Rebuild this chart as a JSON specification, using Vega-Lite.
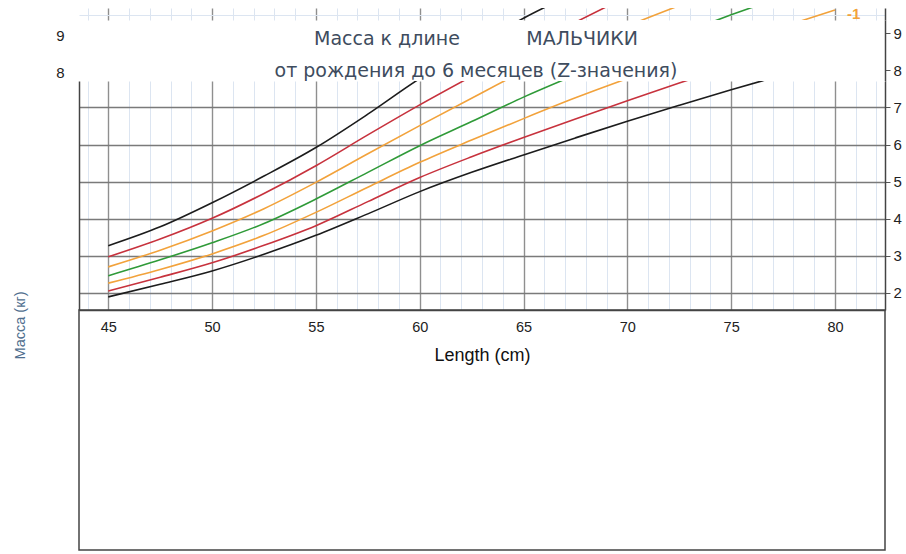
{
  "$schema": "https://vega.github.io/schema/vega-lite/v6.json",
  "autosize": {"type": "none"},
  "padding": {"left": 79, "top": 8, "right": 827, "bottom": 546},
  "background": "white",
  "spacing": 0,
  "bounds": "flush",
  "config": {
    "view": {"stroke": null},
    "axis": {"labelFont": "Liberation Sans", "titleFont": "Liberation Sans"}
  },
  "datasets": {
    "empty": [],
    "ends": [{"z": "-1", "len": 80, "w": 9.63}],
    "curves": [
      {"z": "+3", "len": 45, "w": 3.27}, {"z": "+3", "len": 47.5, "w": 3.78}, {"z": "+3", "len": 50, "w": 4.43}, {"z": "+3", "len": 52.5, "w": 5.15}, {"z": "+3", "len": 55, "w": 5.92}, {"z": "+3", "len": 57.5, "w": 6.82}, {"z": "+3", "len": 60, "w": 7.78}, {"z": "+3", "len": 62.5, "w": 8.6}, {"z": "+3", "len": 65, "w": 9.41}, {"z": "+3", "len": 67.5, "w": 10.1},
      {"z": "+2", "len": 45, "w": 2.97}, {"z": "+2", "len": 47.5, "w": 3.45}, {"z": "+2", "len": 50, "w": 4.01}, {"z": "+2", "len": 52.5, "w": 4.68}, {"z": "+2", "len": 55, "w": 5.43}, {"z": "+2", "len": 57.5, "w": 6.26}, {"z": "+2", "len": 60, "w": 7.07}, {"z": "+2", "len": 62.5, "w": 7.84}, {"z": "+2", "len": 65, "w": 8.59}, {"z": "+2", "len": 67.5, "w": 9.3}, {"z": "+2", "len": 70, "w": 10.0},
      {"z": "+1", "len": 45, "w": 2.70}, {"z": "+1", "len": 47.5, "w": 3.15}, {"z": "+1", "len": 50, "w": 3.67}, {"z": "+1", "len": 52.5, "w": 4.27}, {"z": "+1", "len": 55, "w": 4.98}, {"z": "+1", "len": 57.5, "w": 5.75}, {"z": "+1", "len": 60, "w": 6.51}, {"z": "+1", "len": 62.5, "w": 7.25}, {"z": "+1", "len": 65, "w": 7.98}, {"z": "+1", "len": 67.5, "w": 8.62}, {"z": "+1", "len": 70, "w": 9.2}, {"z": "+1", "len": 72.5, "w": 9.75},
      {"z": "0", "len": 45, "w": 2.46}, {"z": "0", "len": 47.5, "w": 2.89}, {"z": "0", "len": 50, "w": 3.35}, {"z": "0", "len": 52.5, "w": 3.87}, {"z": "0", "len": 55, "w": 4.53}, {"z": "0", "len": 57.5, "w": 5.25}, {"z": "0", "len": 60, "w": 5.97}, {"z": "0", "len": 62.5, "w": 6.62}, {"z": "0", "len": 65, "w": 7.28}, {"z": "0", "len": 67.5, "w": 7.88}, {"z": "0", "len": 70, "w": 8.45}, {"z": "0", "len": 72.5, "w": 8.98}, {"z": "0", "len": 75, "w": 9.5}, {"z": "0", "len": 77.5, "w": 10.0},
      {"z": "-1", "len": 45, "w": 2.26}, {"z": "-1", "len": 47.5, "w": 2.63}, {"z": "-1", "len": 50, "w": 3.05}, {"z": "-1", "len": 52.5, "w": 3.55}, {"z": "-1", "len": 55, "w": 4.17}, {"z": "-1", "len": 57.5, "w": 4.85}, {"z": "-1", "len": 60, "w": 5.52}, {"z": "-1", "len": 62.5, "w": 6.12}, {"z": "-1", "len": 65, "w": 6.70}, {"z": "-1", "len": 67.5, "w": 7.26}, {"z": "-1", "len": 70, "w": 7.78}, {"z": "-1", "len": 72.5, "w": 8.26}, {"z": "-1", "len": 75, "w": 8.73}, {"z": "-1", "len": 77.5, "w": 9.18}, {"z": "-1", "len": 80, "w": 9.63},
      {"z": "-2", "len": 45, "w": 2.05}, {"z": "-2", "len": 47.5, "w": 2.42}, {"z": "-2", "len": 50, "w": 2.81}, {"z": "-2", "len": 52.5, "w": 3.28}, {"z": "-2", "len": 55, "w": 3.81}, {"z": "-2", "len": 57.5, "w": 4.46}, {"z": "-2", "len": 60, "w": 5.11}, {"z": "-2", "len": 62.5, "w": 5.67}, {"z": "-2", "len": 65, "w": 6.19}, {"z": "-2", "len": 67.5, "w": 6.69}, {"z": "-2", "len": 70, "w": 7.18}, {"z": "-2", "len": 72.5, "w": 7.66}, {"z": "-2", "len": 75, "w": 8.12}, {"z": "-2", "len": 77.5, "w": 8.56}, {"z": "-2", "len": 80, "w": 9.0},
      {"z": "-3", "len": 45, "w": 1.89}, {"z": "-3", "len": 47.5, "w": 2.23}, {"z": "-3", "len": 50, "w": 2.59}, {"z": "-3", "len": 52.5, "w": 3.04}, {"z": "-3", "len": 55, "w": 3.55}, {"z": "-3", "len": 57.5, "w": 4.13}, {"z": "-3", "len": 60, "w": 4.73}, {"z": "-3", "len": 62.5, "w": 5.25}, {"z": "-3", "len": 65, "w": 5.72}, {"z": "-3", "len": 67.5, "w": 6.18}, {"z": "-3", "len": 70, "w": 6.63}, {"z": "-3", "len": 72.5, "w": 7.06}, {"z": "-3", "len": 75, "w": 7.48}, {"z": "-3", "len": 77.5, "w": 7.88}, {"z": "-3", "len": 80, "w": 8.27}
    ]
  },
  "vconcat": [
    {
      "width": 806,
      "height": 12,
      "layer": [
        {
          "data": {"name": "curves"},
          "mark": {"type": "line", "clip": true, "strokeWidth": 1.6, "interpolate": "monotone"},
          "encoding": {
            "x": {"field": "len", "type": "quantitative", "scale": {"domain": [43.59, 82.41], "nice": false, "zero": false},
              "axis": {"values": [44,45,46,47,48,49,50,51,52,53,54,55,56,57,58,59,60,61,62,63,64,65,66,67,68,69,70,71,72,73,74,75,76,77,78,79,80,81,82],
                "grid": true,
                "gridColor": {"condition": {"test": "datum.value % 5 === 0", "value": "#8f8f8f"}, "value": "#dce5f1"},
                "gridWidth": {"condition": {"test": "datum.value % 5 === 0", "value": 1.4}, "value": 1},
                "labels": false, "ticks": false, "domain": false, "title": null}},
            "y": {"field": "w", "type": "quantitative", "scale": {"domain": [9.361, 9.685], "nice": false, "zero": false}, "axis": null},
            "color": {"field": "z", "type": "nominal", "scale": {"domain": ["+3","+2","+1","0","-1","-2","-3"], "range": ["#1c1c1c","#c7323d","#f2a23b","#2f9a38","#f2a23b","#c7323d","#1c1c1c"]}, "legend": null}
          }
        },
        {
          "data": {"name": "ends"},
          "mark": {"type": "text", "align": "left", "dx": 12, "dy": 4, "fontSize": 15, "fontWeight": "bold", "font": "Liberation Sans"},
          "encoding": {
            "x": {"field": "len", "type": "quantitative", "axis": null},
            "y": {"field": "w", "type": "quantitative",
              "axis": {"orient": "right", "values": [9.5], "grid": true, "gridColor": "#dce5f1", "labels": false, "ticks": false, "domain": true, "domainColor": "#444", "domainWidth": 1.5, "title": null}},
            "text": {"field": "z"},
            "color": {"field": "z", "type": "nominal", "legend": null}
          }
        }
      ],
      "resolve": {"axis": {"x": "independent", "y": "independent"}}
    },
    {
      "width": 806,
      "height": 61,
      "title": {
        "text": "Масса к длине\u2003\u2003\u2003\u2002МАЛЬЧИКИ",
        "subtitle": "от рождения до 6 месяцев (Z-значения)",
        "frame": "group", "anchor": "middle", "offset": -61, "dx": -6,
        "font": "DejaVu Sans", "fontSize": 19, "fontWeight": "normal", "color": "#3e4c5e",
        "subtitleFont": "DejaVu Sans", "subtitleFontSize": 19, "subtitleColor": "#3e4c5e", "subtitlePadding": 13
      },
      "layer": [
        {
          "data": {"name": "empty"},
          "mark": "point",
          "encoding": {
            "y": {"field": "w", "type": "quantitative", "scale": {"domain": [7.715, 9.361], "nice": false, "zero": false},
              "axis": {"orient": "left", "values": [8, 9], "format": "d", "grid": false, "ticks": false, "domain": false, "labelPadding": 15, "labelOffset": 2, "labelFontSize": 15, "labelColor": "#222", "title": null}}
          }
        },
        {
          "data": {"name": "empty"},
          "mark": "point",
          "encoding": {
            "y": {"field": "w", "type": "quantitative",
              "axis": {"orient": "right", "values": [8, 8.5, 9], "format": "d", "grid": false, "ticks": true, "tickSize": 5, "tickColor": "#555", "domain": true, "domainColor": "#444", "domainWidth": 1.5,
                "labelExpr": "datum.value % 1 === 0 ? datum.label : ''", "labelOverlap": false, "labelPadding": 3, "labelFontSize": 15, "labelColor": "#222", "title": null}}
          }
        }
      ],
      "resolve": {"axis": {"y": "independent"}}
    },
    {
      "width": 806,
      "height": 229,
      "view": {"fill": "white"},
      "layer": [
        {
          "data": {"name": "curves"},
          "mark": {"type": "line", "clip": true, "strokeWidth": 1.6, "interpolate": "monotone"},
          "encoding": {
            "x": {"field": "len", "type": "quantitative", "scale": {"domain": [43.59, 82.41], "nice": false, "zero": false},
              "axis": {"values": [44,45,46,47,48,49,50,51,52,53,54,55,56,57,58,59,60,61,62,63,64,65,66,67,68,69,70,71,72,73,74,75,76,77,78,79,80,81,82],
                "grid": true,
                "gridColor": {"condition": {"test": "datum.value % 5 === 0", "value": "#8f8f8f"}, "value": "#dce5f1"},
                "gridWidth": {"condition": {"test": "datum.value % 5 === 0", "value": 1.4}, "value": 1},
                "format": "d",
                "labelExpr": "datum.value % 5 === 0 ? datum.label : ''",
                "labelOverlap": false, "labelFlush": false, "labelBound": false,
                "ticks": false, "domain": true, "domainColor": "#444", "domainWidth": 1.5,
                "labelFontSize": 14.5, "labelColor": "#222", "labelPadding": 10,
                "title": "Length (cm)", "titleFontSize": 18, "titleFontWeight": "normal", "titleColor": "#111", "titlePadding": 13}},
            "y": {"field": "w", "type": "quantitative", "scale": {"domain": [1.536, 7.715], "nice": false, "zero": false},
              "axis": {"orient": "left", "grid": false, "labels": false, "ticks": false, "domain": true, "domainColor": "#444", "domainWidth": 1.5, "title": null}},
            "color": {"field": "z", "type": "nominal", "scale": {"domain": ["+3","+2","+1","0","-1","-2","-3"], "range": ["#1c1c1c","#c7323d","#f2a23b","#2f9a38","#f2a23b","#c7323d","#1c1c1c"]}, "legend": null}
          }
        },
        {
          "data": {"name": "empty"},
          "mark": "point",
          "encoding": {
            "y": {"field": "w", "type": "quantitative",
              "axis": {"orient": "right", "values": [2, 2.5, 3, 3.5, 4, 4.5, 5, 5.5, 6, 6.5, 7, 7.5],
                "format": "d",
                "grid": true,
                "gridColor": {"condition": {"test": "datum.value % 1 === 0 || datum.value > 7.4", "value": "#7a7a7a"}, "value": "#dce5f1"},
                "gridWidth": {"condition": {"test": "datum.value > 7.4", "value": 2}, "value": 1.3},
                "ticks": true, "tickSize": 5, "tickColor": "#555",
                "tickOpacity": {"condition": {"test": "datum.value % 1 === 0", "value": 1}, "value": 0},
                "domain": true, "domainColor": "#444", "domainWidth": 1.5,
                "labelExpr": "datum.value % 1 === 0 ? datum.label : ''", "labelOverlap": false,
                "labelPadding": 3, "labelFontSize": 15, "labelColor": "#222", "title": null}}
          }
        }
      ],
      "resolve": {"axis": {"y": "independent"}}
    },
    {
      "width": 806,
      "height": 240,
      "view": {"stroke": "#444", "strokeWidth": 1.5},
      "data": {"name": "empty"},
      "mark": "point",
      "encoding": {
        "y": {"field": "w", "type": "quantitative", "scale": {"domain": [0, 1]},
          "axis": {"title": "Масса (кг)", "labels": false, "ticks": false, "domain": false, "grid": false,
            "titleX": -52, "titleY": 15, "titleFontSize": 14.5, "titleColor": "#4f6e8e", "titleFontWeight": "normal"}}
      }
    }
  ]
}
